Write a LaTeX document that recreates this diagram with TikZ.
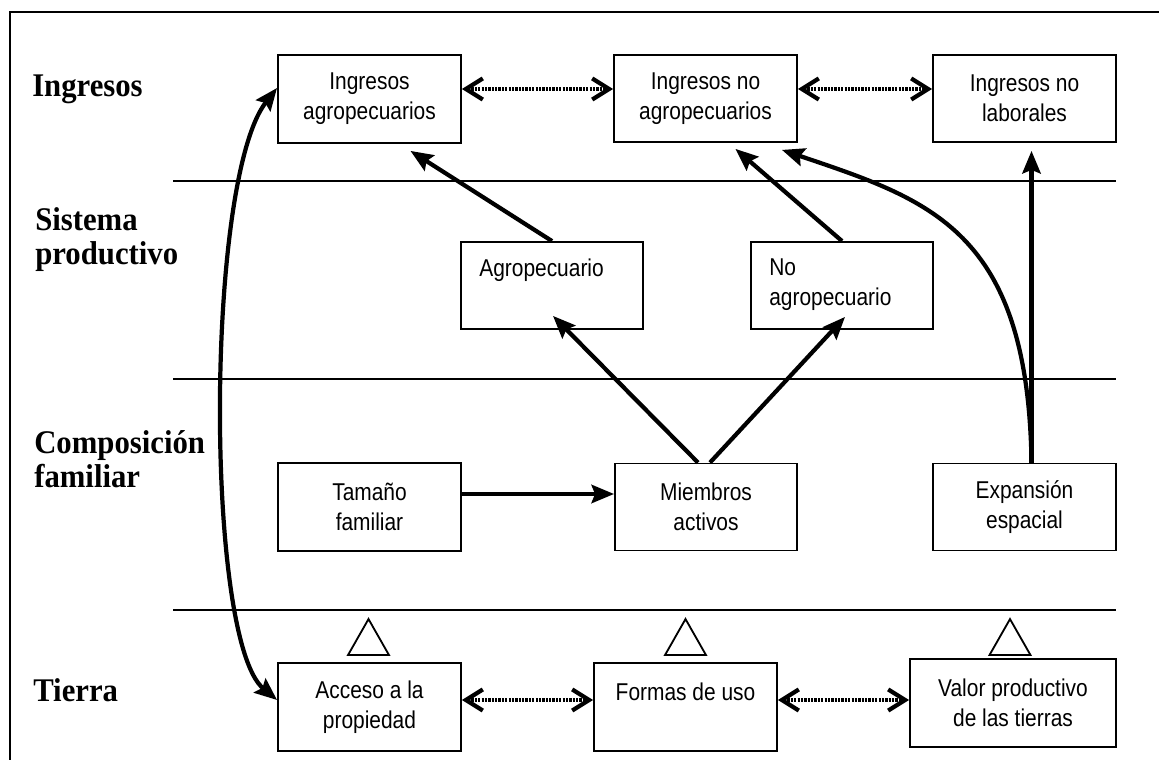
\documentclass[tikz,border=0pt]{standalone}
\usepackage{fontspec}
\setmainfont{Liberation Serif}
\newfontfamily\labfont[FakeStretch=0.93]{Liberation Serif}
\newfontfamily\boxfont[FakeStretch=0.86]{Liberation Sans}
\usetikzlibrary{arrows.meta, calc}

\tikzset{
  rowlab/.style={font=\labfont\bfseries\fontsize{23.5}{24.8}\selectfont, align=left, inner sep=0pt, anchor=base west},
  cbox/.style={draw, line width=1.3pt, minimum width=4.575cm, minimum height=2.2cm,
    inner sep=0pt, align=center, font=\boxfont\fontsize{17.3}{21.2}\selectfont},
  toplab/.style={anchor=north west, inner sep=0pt, align=left, xshift=13.5pt, yshift=-12.3pt,
    font=\boxfont\fontsize{17.3}{21.2}\selectfont},
  flow/.style={line width=3pt, -{Stealth[length=16pt,width=13pt,inset=2.5pt]}},
  both/.style={line width=3pt, {Stealth[length=16pt,width=13pt,inset=2.5pt]}-{Stealth[length=16pt,width=13pt,inset=2.5pt]}},
  link/.style={line width=2.6pt, dash pattern=on 1.6pt off 0.8pt,
    {Straight Barb[length=12pt,width=15pt,line width=3pt]}-{Straight Barb[length=12pt,width=15pt,line width=3pt]}},
  sepline/.style={line width=1pt},
  tri/.style={line width=1.3pt}
}

\begin{document}
\begin{tikzpicture}[x=0.025cm, y=-0.025cm]
  \useasboundingbox (0,0) rectangle (1159,760);
  \draw[line width=1.3pt] (10,12) rectangle (1200,800);
  \foreach \y in {181,379,610}{%
    \draw[sepline] (173,\y) -- (1116,\y);}

  % row labels
  \node[rowlab] (lingresos) at (32,97) {Ingresos};
  \node[rowlab] (lsistema) at (35,265) {Sistema\\productivo};
  \node[rowlab] (lcompos) at (34,488) {Composición\\familiar};
  \node[rowlab] (ltierra) at (33,701) {Tierra};

  % Ingresos
  \node[cbox] (ingagro) at (369.5,99) {Ingresos\\agropecuarios};
  \node[cbox, minimum height=2.175cm] (ingnoagro) at (705.5,98.5) {Ingresos no\\agropecuarios};
  \node[cbox, minimum height=2.175cm] (inglab) at (1024.5,98.5) {Ingresos no\\laborales};

  % Sistema productivo
  \node[cbox, minimum width=4.55cm, minimum height=2.175cm,
    label={[toplab]north west:Agropecuario}] (agro) at (552,285.5) {};
  \node[cbox, minimum width=4.55cm, minimum height=2.175cm,
    label={[toplab]north west:No\\agropecuario}] (noagro) at (842,285.5) {};

  % Composicion familiar
  \node[cbox] (tamano) at (369.5,507) {Tamaño\\familiar};
  \node[cbox, minimum width=4.55cm, minimum height=2.175cm] (miembros) at (706,507) {Miembros\\activos};
  \node[cbox, minimum height=2.175cm] (expansion) at (1024.5,507) {Expansión\\espacial};

  % Tierra
  \node[cbox] (acceso) at (369.5,707) {Acceso a la\\propiedad};
  \node[cbox] (formas) at (685.5,707) {Formas de uso\\\mbox{}};
  \node[cbox, minimum width=5.15cm] (valor) at (1013,703) {Valor productivo\\de las tierras};

  \foreach \b/\g/\dx in {acceso/7/-1, formas/7/0, valor/3/-3}{%
    \draw[tri] ($(\b.north)+(\dx-20.5,-\g)$) -- ++(20.5,-36) -- ++(20.5,36) -- cycle;}

  % dotted links
  \draw[link] (ingagro.east |- 0,89) -- (ingnoagro.west |- 0,89);
  \draw[link] (ingnoagro.east |- 0,89) -- (inglab.west |- 0,89);
  \draw[link] (acceso.east |- 0,700) -- (formas.west |- 0,700);
  \draw[link] (formas.east |- 0,700) -- (valor.west |- 0,700);

  % arrows
  \draw[flow] (agro.north) -- ($(ingagro.south)+(41,7)$);
  \draw[flow] (noagro.north) -- ($(ingnoagro.south)+(30,6)$);
  \draw[flow] ($(miembros.north)+(-8,0)$) -- ($(agro.south)+(1,-14)$);
  \draw[flow] ($(miembros.north)+(4,0)$) -- ($(noagro.south)+(3,-13)$);
  \draw[flow] (tamano.east |- 0,494) -- (miembros.west |- 0,494);
  \draw[flow] ($(expansion.north)+(7,0)$) -- ($(inglab.south)+(7,8)$);
  \draw[flow] ($(expansion.north)+(7,0)$) .. controls (1028,230) and (930,200) .. ($(ingnoagro.south east)+(-16,7)$);
  \draw[both] ($(ingagro.west)+(0,-11)$) .. controls (205,180) and (205,640) .. ($(acceso.west)+(0,-7)$);
\end{tikzpicture}
\end{document}
